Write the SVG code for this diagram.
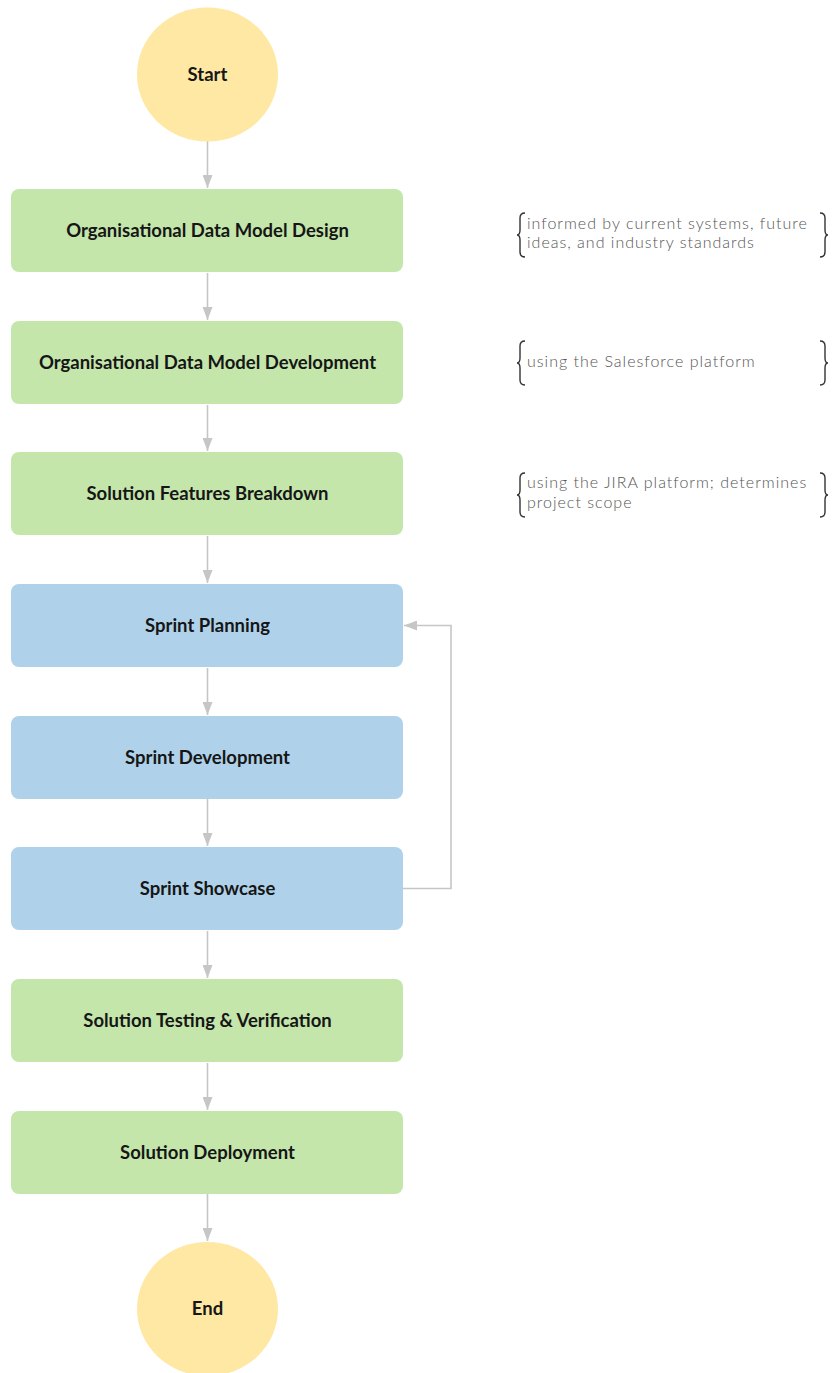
<svg xmlns="http://www.w3.org/2000/svg" width="835" height="1373" viewBox="0 0 835 1373">
  <defs>
    <marker id="arrow" viewBox="0 0 13 10" refX="13" refY="5" markerWidth="13" markerHeight="10" markerUnits="userSpaceOnUse" orient="auto">
      <path d="M0,0 L13,5 L0,10 Z" fill="#c6c6c6"/>
    </marker>
    <style>
      .term { fill: #ffe8a3; }
      .green { fill: #c4e6ab; }
      .blue { fill: #afd2ea; }
      .label { font-family: Lato, "Liberation Sans", sans-serif; font-weight: 700; font-size: 18.5px; fill: #161616; text-anchor: middle; }
      .note { font-family: Lato, "Liberation Sans", sans-serif; font-weight: 300; font-size: 16px; letter-spacing: 1px; fill: #555555; }
      .brace { fill: none; stroke: #333; stroke-width: 1.4; }
      .edge { fill: none; stroke: #c6c6c6; stroke-width: 1.6; marker-end: url(#arrow); }
    </style>
  </defs>

  <rect width="835" height="1373" fill="#ffffff"/>

  <!-- connectors -->
  <g id="connectors">
    <path class="edge" d="M207.5,141 V188"/>
    <path class="edge" d="M207.5,273 V320"/>
    <path class="edge" d="M207.5,405 V451"/>
    <path class="edge" d="M207.5,536 V583"/>
    <path class="edge" d="M207.5,668 V715"/>
    <path class="edge" d="M207.5,799 V846"/>
    <path class="edge" d="M207.5,931 V978"/>
    <path class="edge" d="M207.5,1063 V1110"/>
    <path class="edge" d="M207.5,1194 V1241"/>
    <path class="edge" d="M403,888.5 H451 V625.5 H404"/>
  </g>

  <!-- nodes -->
  <g id="start">
    <ellipse class="term" cx="207.5" cy="74.5" rx="70.5" ry="67"/>
    <text class="label" x="207.5" y="81">Start</text>
  </g>

  <g id="data-model-design">
    <rect class="green" x="11" y="189" width="392" height="83" rx="8"/>
    <text class="label" x="207.5" y="237">Organisational Data Model Design</text>
  </g>

  <g id="data-model-development">
    <rect class="green" x="11" y="321" width="392" height="83" rx="8"/>
    <text class="label" x="207.5" y="369">Organisational Data Model Development</text>
  </g>

  <g id="features-breakdown">
    <rect class="green" x="11" y="452" width="392" height="83" rx="8"/>
    <text class="label" x="207.5" y="500">Solution Features Breakdown</text>
  </g>

  <g id="sprint-planning">
    <rect class="blue" x="11" y="584" width="392" height="83" rx="8"/>
    <text class="label" x="207.5" y="632">Sprint Planning</text>
  </g>

  <g id="sprint-development">
    <rect class="blue" x="11" y="716" width="392" height="83" rx="8"/>
    <text class="label" x="207.5" y="764">Sprint Development</text>
  </g>

  <g id="sprint-showcase">
    <rect class="blue" x="11" y="847" width="392" height="83" rx="8"/>
    <text class="label" x="207.5" y="895">Sprint Showcase</text>
  </g>

  <g id="testing-verification">
    <rect class="green" x="11" y="979" width="392" height="83" rx="8"/>
    <text class="label" x="207.5" y="1027">Solution Testing &amp; Verification</text>
  </g>

  <g id="deployment">
    <rect class="green" x="11" y="1111" width="392" height="83" rx="8"/>
    <text class="label" x="207.5" y="1159">Solution Deployment</text>
  </g>

  <g id="end">
    <ellipse class="term" cx="207.5" cy="1309" rx="70.5" ry="67"/>
    <text class="label" x="207.5" y="1315">End</text>
  </g>

  <!-- annotations -->
  <g id="note-design">
    <path class="brace" d="M525,213 q-5,0 -5,5 v12 q0,5 -3,5 q3,0 3,5 v12 q0,5 5,5"/>
    <path class="brace" d="M820,213 q5,0 5,5 v12 q0,5 3,5 q-3,0 -3,5 v12 q0,5 -5,5"/>
    <text class="note" x="527" y="228.5">informed by current systems, future</text>
    <text class="note" x="527" y="248">ideas, and industry standards</text>
  </g>

  <g id="note-development">
    <path class="brace" d="M525,341 q-5,0 -5,5 v12 q0,5 -3,5 q3,0 3,5 v12 q0,5 5,5"/>
    <path class="brace" d="M820,341 q5,0 5,5 v12 q0,5 3,5 q-3,0 -3,5 v12 q0,5 -5,5"/>
    <text class="note" x="527" y="367">using the Salesforce platform</text>
  </g>

  <g id="note-breakdown">
    <path class="brace" d="M525,473 q-5,0 -5,5 v12 q0,5 -3,5 q3,0 3,5 v12 q0,5 5,5"/>
    <path class="brace" d="M820,473 q5,0 5,5 v12 q0,5 3,5 q-3,0 -3,5 v12 q0,5 -5,5"/>
    <text class="note" x="527" y="488">using the JIRA platform; determines</text>
    <text class="note" x="527" y="507.5">project scope</text>
  </g>
</svg>
